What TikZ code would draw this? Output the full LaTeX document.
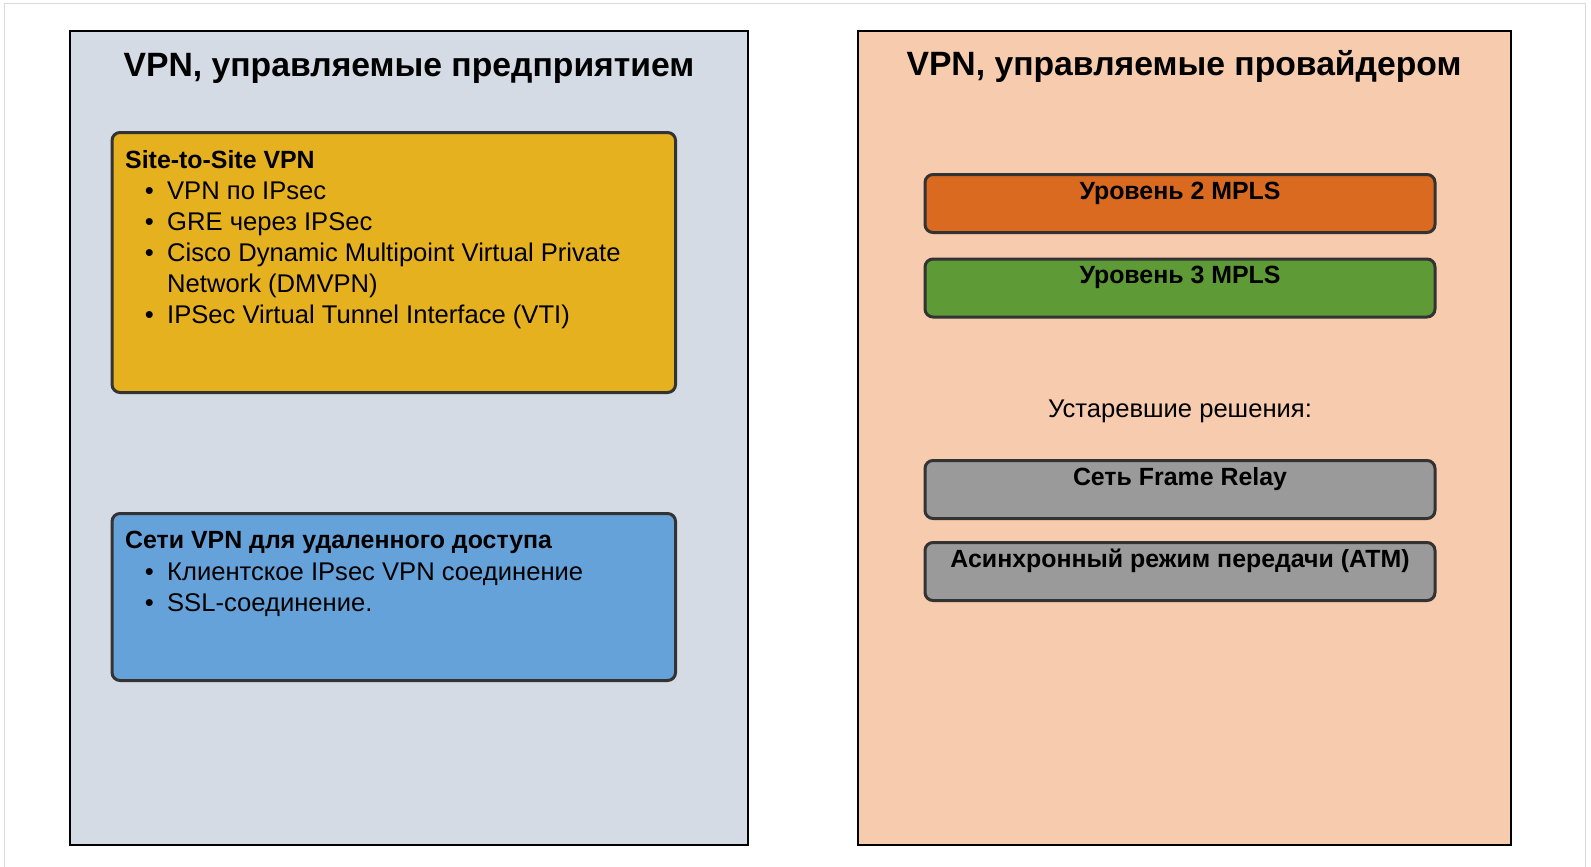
\documentclass[tikz,border=0pt]{standalone}
\usepackage{fontspec}
\setmainfont{Liberation Sans}
\usetikzlibrary{positioning}
\definecolor{entfill}{HTML}{D5DBE5}
\definecolor{provfill}{HTML}{F7CBAD}
\definecolor{s2sfill}{HTML}{E6B11F}
\definecolor{rafill}{HTML}{66A2DA}
\definecolor{ltwofill}{HTML}{D96A1F}
\definecolor{lthreefill}{HTML}{5E9A36}
\definecolor{oldfill}{HTML}{9A9A9A}
\definecolor{boxline}{HTML}{333333}
\definecolor{frameline}{HTML}{DADADA}
\newcommand{\blt}{\makebox[22.3pt][l]{\textbullet}}

\begin{document}
\begin{tikzpicture} [x=1pt, y=-1pt,
  panel/.style={draw=black, line width=2pt},
  box/.style={draw=boxline, line width=3pt, rounded corners=8pt, inner sep=0pt, minimum width=510, minimum height=58},
  bigbox/.style={box, minimum width=563.5},
  head/.style={anchor=base, inner sep=0pt, font=\fontsize{33.7}{40}\selectfont\bfseries},
  txt/.style={anchor=base west, inner sep=0pt, font=\fontsize{25.6}{31}\selectfont},
  btxt/.style={txt, font=\fontsize{24.9}{31}\selectfont\bfseries},
  ctxt/.style={anchor=base, inner sep=0pt, font=\fontsize{24.9}{31}\selectfont\bfseries}]
\useasboundingbox (0,0) rectangle (1591,867);
\draw[frameline] (4.5,870) -- (4.5,3.5) -- (1585.5,3.5) -- (1585.5,870);
% two panels
\fill[entfill] (70,31.4) rectangle (748,845);
\draw[panel] (70,31.4) rectangle (748,845);
\fill[provfill] (858,31.4) rectangle (1511,845);
\draw[panel] (858,31.4) rectangle (1511,845);
\node[head] (enttitle) at (409,77) {VPN, управляемые предприятием};
\node[head] (provtitle) at (1184,75) {VPN, управляемые провайдером};

% left side
\node[bigbox, fill=s2sfill, minimum height=260] (s2s) at (393.8,262.5) {};
\node[btxt] (s2shead) at (125,168) {Site-to-Site VPN};
\node[txt] (s2sa) at (144.7,199) {\blt VPN по IPsec};
\node[txt] (s2sb) at (144.7,230) {\blt GRE через IPSec};
\node[txt] (s2sc) at (144.7,261) {\blt Cisco Dynamic Multipoint Virtual Private};
\node[txt] (s2sc2) at (167,292) {Network (DMVPN)};
\node[txt] (s2sd) at (144.7,323) {\blt IPSec Virtual Tunnel Interface (VTI)};

\node[bigbox, fill=rafill, minimum height=167] (ra) at (393.8,597) {};
\node[btxt] (rahead) at (125,548) {Сети VPN для удаленного доступа};
\node[txt] (raa) at (144.7,580) {\blt Клиентское IPsec VPN соединение};
\node[txt] (rab) at (144.7,611) {\blt SSL-соединение.};

% right side
\node[box, fill=ltwofill] (ltwo) at (1180,203.5) {};
\node[ctxt] (ltwotxt) at (1180,199) {Уровень 2 MPLS};
\node[box, fill=lthreefill] (lthree) at (1180,288) {};
\node[ctxt] (lthreetxt) at (1180,283) {Уровень 3 MPLS};
\node[txt, anchor=base] (oldtxt) at (1180,417.5) {Устаревшие решения:};
\node[box, fill=oldfill] (fr) at (1180,489.5) {};
\node[ctxt] (frtxt) at (1180,485) {Сеть Frame Relay};
\node[box, fill=oldfill] (atm) at (1180,571.5) {};
\node[ctxt] (atmtxt) at (1180,567.5) {Асинхронный режим передачи (ATM)};
\end{tikzpicture}
\end{document}
